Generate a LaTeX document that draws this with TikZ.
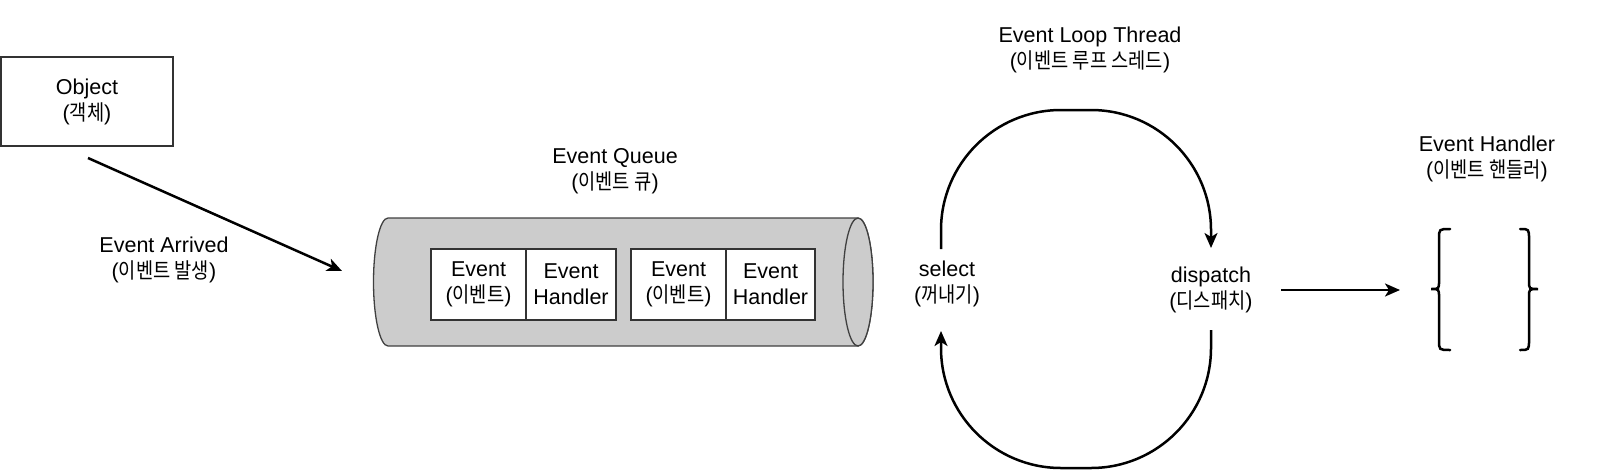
\documentclass[tikz,border=0pt]{standalone}
\usepackage{fontspec}
\setmainfont{Liberation Sans}
\newfontfamily\krfont[FakeStretch=0.87]{Noto Sans CJK KR}
\newcommand\ko[1]{{\krfont #1}}
\usetikzlibrary{arrows.meta}
\definecolor{cylgray}{RGB}{204,204,204}
\begin{document}
\begin{tikzpicture}[x=1pt,y=-1pt,
  font=\fontsize{21.5pt}{26pt}\selectfont,
  lbl/.style={align=center, inner sep=0pt},
  arr/.style={line width=2.5pt, -{Stealth[length=15pt,width=13pt,inset=4pt]}},
  cell/.style={draw=black!80, line width=1.2pt, fill=white, minimum height=71pt, align=center, inner sep=0pt},
  brace/.style={line width=2.5pt, line cap=round}]
\useasboundingbox (0,0) rectangle (1600,471);

% Object box
\node[draw=black!80, line width=1.3pt, minimum width=172pt, minimum height=89pt, align=center] (obj) at (87,101.5) {Object\\(\ko{객체})};

% Event arrived arrow
\coordinate (a1) at (88,158);
\coordinate (a2) at (342,271);
\draw[arr] (a1) -- (a2);
\node[lbl] (arrlbl) at (164,260) {Event Arrived\\(\ko{이벤트 발생})};

% Queue label
\node[lbl] (qlbl) at (615,171) {Event Queue\\(\ko{이벤트 큐})};

% Cylinder
\draw[draw=black!75, line width=1.3pt, fill=cylgray]
  (388,218) -- (858,218) arc[start angle=270, end angle=450, x radius=15, y radius=64]
  -- (388,346) arc[start angle=90, end angle=270, x radius=14.5, y radius=64] -- cycle;
\draw[draw=black!75, line width=1.3pt, fill=cylgray] (858,282) ellipse [x radius=15, y radius=64];

% Cells
\node[cell, minimum width=95pt] (e1) at (478.5,284.5) {Event\\(\ko{이벤트})};
\node[cell, minimum width=90pt] (h1) at (571,284.5) {Event\\Handler};
\node[cell, minimum width=95pt] (e2) at (678.5,284.5) {Event\\(\ko{이벤트})};
\node[cell, minimum width=89pt] (h2) at (770.5,284.5) {Event\\Handler};

% Event loop
\node[lbl] (looplbl) at (1090,50) {Event Loop Thread\\(\ko{이벤트 루프 스레드})};
\node[lbl] (sel) at (947,284) {select\\(\ko{꺼내기})};
\node[lbl] (disp) at (1211,290) {dispatch\\(\ko{디스패치})};
\coordinate (selTop) at (941,249);
\coordinate (dispTop) at (1211,248);
\coordinate (dispBot) at (1211,330);
\coordinate (selBot) at (941,331);
\draw[arr, rounded corners=120pt] (selTop) -- (941,110) -- (1211,110) -- (dispTop);
\draw[arr, rounded corners=120pt] (dispBot) -- (1211,468) -- (941,468) -- (selBot);

% Dispatch to handler
\coordinate (d1) at (1281,290);
\coordinate (d2) at (1400,290);
\draw[arr] (d1) -- (d2);

% Event handler
\node[lbl] (hlbl) at (1487,159) {Event Handler\\(\ko{이벤트 핸들러})};
\draw[brace] (1450,229) .. controls (1439,229) .. (1439,239) -- (1439,281)
  .. controls (1439,289) .. (1431,289) .. controls (1439,289) .. (1439,297)
  -- (1439,340) .. controls (1439,350) .. (1450,350);
\draw[brace] (1520,229) .. controls (1529,229) .. (1529,239) -- (1529,281)
  .. controls (1529,289) .. (1538,289) .. controls (1529,289) .. (1529,297)
  -- (1529,340) .. controls (1529,350) .. (1520,350);
\end{tikzpicture}
\end{document}
